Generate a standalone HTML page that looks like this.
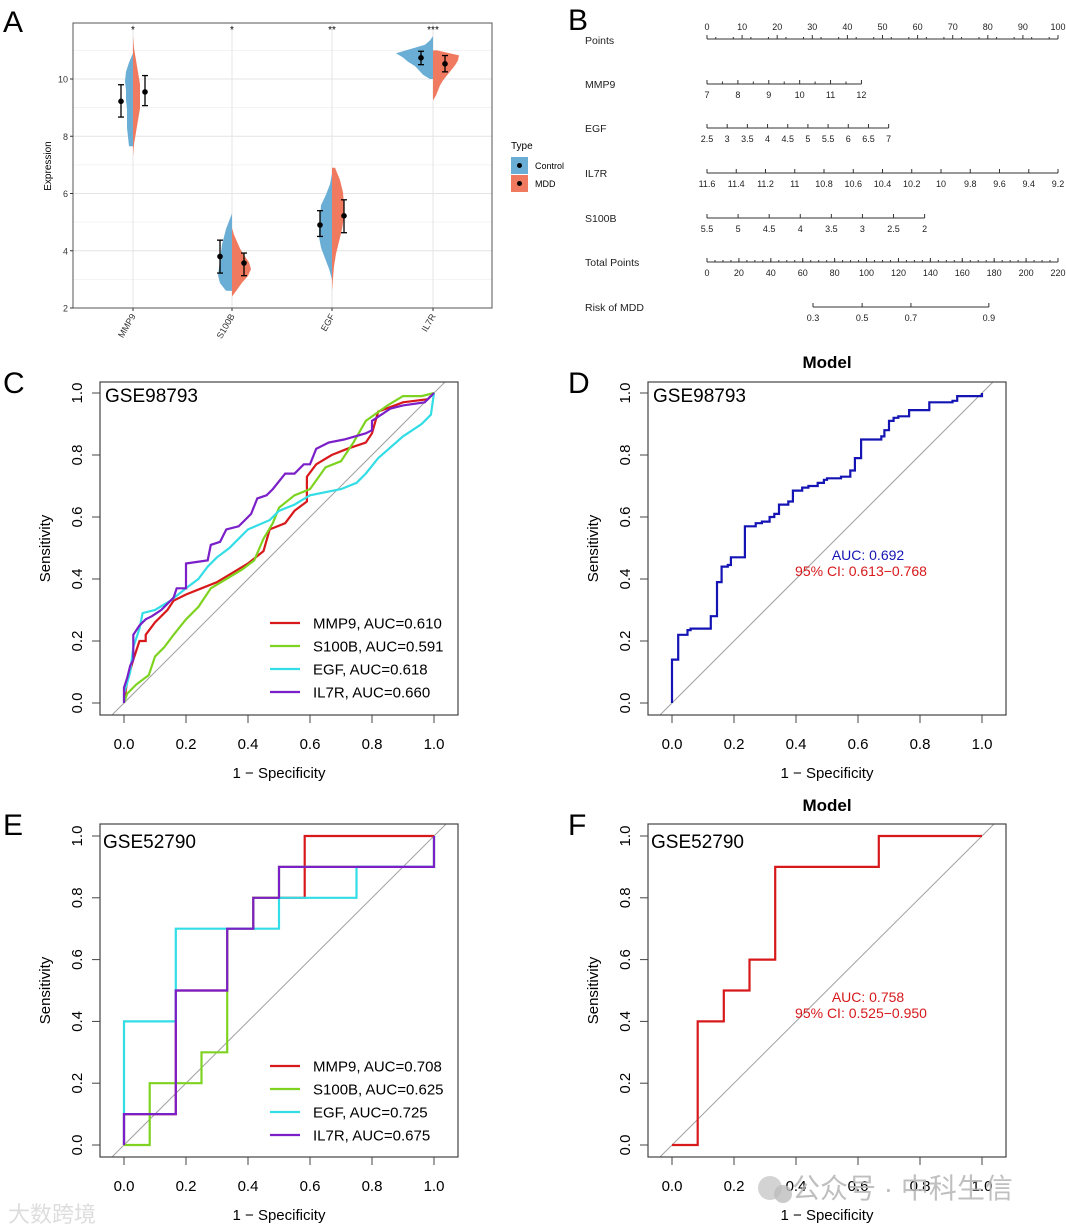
<!DOCTYPE html>
<html><head><meta charset="utf-8">
<style>
html,body{margin:0;padding:0;background:#fff;}
svg{display:block;font-family:"Liberation Sans","Noto Sans CJK SC",sans-serif;}
</style></head>
<body>
<svg id="fig" width="1066" height="1229" viewBox="0 0 1066 1229" xmlns="http://www.w3.org/2000/svg"></svg>
<script>
// ---------- Panel A data ----------
const genes = ["MMP9","S100B","EGF","IL7R"];
const sigLabels = ["*","*","**","***"];
const ctrlMean = [9.22,3.8,4.9,10.74];
const ctrlLo = [8.67,3.22,4.5,10.5];
const ctrlHi = [9.8,4.37,5.4,10.97];
const mddMean = [9.55,3.57,5.22,10.53];
const mddLo = [9.07,3.13,4.63,10.25];
const mddHi = [10.12,3.92,5.78,10.82];
const ctrlMin = [7.65,2.6,3.0,10.0];
const ctrlMax = [10.9,5.3,6.7,11.5];
const mddMin = [7.3,2.4,2.6,9.25];
const mddMax = [11.5,4.8,6.9,11.0];
const ctrlDens = [[4,5,6,6,6,7,7,8,7,4,0],[6,12,14,13,12,11,10,8,6,3,0],[0,3,7,11,13,13,12,11,6,2,0],[3,10,14,18,25,30,37,22,8,3,0]];
const mddDens = [[0,1,3,5,7,7,7,5,3,1,0],[0,5,10,16,19,17,12,8,5,2,0],[0,1,2,4,7,10,12,12,11,8,3],[0,3,5,7,10,14,18,22,25,26,4]];
const expTicks = [2,4,6,8,10];
const expMinor = [3,5,7,9,11];
// ---------- Panel B data ----------
const nomoNames = ["Points","MMP9","EGF","IL7R","S100B","Total Points","Risk of MDD"];
const nomoLabels = [
 ["0","10","20","30","40","50","60","70","80","90","100"],
 ["7","8","9","10","11","12"],
 ["2.5","3","3.5","4","4.5","5","5.5","6","6.5","7"],
 ["11.6","11.4","11.2","11","10.8","10.6","10.4","10.2","10","9.8","9.6","9.4","9.2"],
 ["5.5","5","4.5","4","3.5","3","2.5","2"],
 ["0","20","40","60","80","100","120","140","160","180","200","220"],
 ["0.3","0.5","0.7","0.9"]];
const nomoPts = [
 [0,10,20,30,40,50,60,70,80,90,100],
 [0,8.8,17.6,26.4,35.2,44],
 [0,5.75,11.5,17.25,23,28.75,34.5,40.25,46,51.75],
 [0,8.33,16.67,25,33.33,41.67,50,58.33,66.67,75,83.33,91.67,100],
 [0,8.857,17.714,26.571,35.428,44.285,53.142,62],
 [0,9.09,18.18,27.27,36.36,45.45,54.55,63.64,72.73,81.82,90.91,100],
 [30.2,44.2,58.1,80.3]];
// ---------- ROC data ----------
const rocNames = ["MMP9","S100B","EGF","IL7R"];
const rocColors = ["#d7191c","#7ed321","#33dde6","#7b1fc8"];
const aucC = ["0.610","0.591","0.618","0.660"];
const aucE = ["0.708","0.625","0.725","0.675"];
const cMMP9 = [[0,0],[0.01,0.07],[0.03,0.14],[0.05,0.2],[0.07,0.2],[0.07,0.22],[0.1,0.26],[0.14,0.3],[0.16,0.33],[0.2,0.35],[0.25,0.37],[0.3,0.39],[0.35,0.42],[0.4,0.45],[0.45,0.49],[0.47,0.56],[0.52,0.58],[0.55,0.62],[0.59,0.65],[0.59,0.73],[0.62,0.77],[0.67,0.8],[0.72,0.82],[0.78,0.84],[0.8,0.87],[0.82,0.94],[0.9,0.97],[0.98,0.98],[1,1]];
const cS100B = [[0,0],[0.01,0.03],[0.04,0.06],[0.08,0.09],[0.1,0.15],[0.13,0.18],[0.16,0.22],[0.2,0.27],[0.24,0.31],[0.28,0.37],[0.33,0.4],[0.38,0.43],[0.42,0.46],[0.45,0.53],[0.48,0.58],[0.5,0.63],[0.55,0.67],[0.6,0.69],[0.65,0.76],[0.7,0.78],[0.74,0.84],[0.78,0.91],[0.85,0.96],[0.9,0.99],[0.96,0.99],[1,1]];
const cEGF = [[0,0],[0,0.03],[0.02,0.1],[0.03,0.18],[0.05,0.24],[0.06,0.29],[0.1,0.3],[0.15,0.33],[0.2,0.37],[0.24,0.4],[0.27,0.44],[0.3,0.47],[0.34,0.5],[0.4,0.56],[0.47,0.59],[0.5,0.62],[0.55,0.64],[0.6,0.67],[0.7,0.69],[0.75,0.71],[0.78,0.74],[0.82,0.79],[0.9,0.86],[0.96,0.9],[0.99,0.93],[1,1]];
const cIL7R = [[0,0],[0,0.05],[0.01,0.08],[0.02,0.12],[0.03,0.14],[0.03,0.22],[0.05,0.25],[0.07,0.27],[0.09,0.28],[0.12,0.3],[0.14,0.32],[0.16,0.34],[0.17,0.37],[0.2,0.37],[0.2,0.45],[0.27,0.46],[0.28,0.51],[0.31,0.52],[0.33,0.56],[0.37,0.57],[0.39,0.59],[0.41,0.61],[0.43,0.66],[0.46,0.67],[0.48,0.69],[0.52,0.74],[0.55,0.74],[0.58,0.77],[0.6,0.77],[0.62,0.82],[0.66,0.84],[0.71,0.85],[0.78,0.87],[0.8,0.88],[0.8,0.91],[0.86,0.95],[0.9,0.96],[0.97,0.97],[1,1]];
const eMMP9 = [[0,0],[0,0.1],[0.167,0.1],[0.167,0.5],[0.333,0.5],[0.333,0.7],[0.417,0.7],[0.417,0.8],[0.583,0.8],[0.583,1],[1,1]];
const eS100B = [[0,0],[0.083,0],[0.083,0.2],[0.25,0.2],[0.25,0.3],[0.333,0.3],[0.333,0.7],[0.417,0.7],[0.417,0.8],[0.5,0.8],[0.5,0.9],[1,0.9],[1,1]];
const eEGF = [[0,0],[0,0.4],[0.167,0.4],[0.167,0.7],[0.5,0.7],[0.5,0.8],[0.75,0.8],[0.75,0.9],[1,0.9],[1,1]];
const eIL7R = [[0,0],[0,0.1],[0.167,0.1],[0.167,0.5],[0.333,0.5],[0.333,0.7],[0.417,0.7],[0.417,0.8],[0.5,0.8],[0.5,0.9],[1,0.9],[1,1]];
const dModel = [[0,0],[0,0.14],[0.02,0.14],[0.02,0.22],[0.05,0.22],[0.05,0.235],[0.06,0.235],[0.06,0.24],[0.125,0.24],[0.125,0.28],[0.145,0.28],[0.145,0.39],[0.16,0.39],[0.16,0.44],[0.18,0.44],[0.18,0.445],[0.19,0.445],[0.19,0.47],[0.235,0.47],[0.235,0.57],[0.27,0.57],[0.27,0.58],[0.29,0.58],[0.29,0.585],[0.315,0.585],[0.315,0.6],[0.33,0.6],[0.33,0.61],[0.345,0.61],[0.345,0.64],[0.375,0.64],[0.375,0.65],[0.39,0.65],[0.39,0.685],[0.42,0.685],[0.42,0.695],[0.44,0.695],[0.44,0.7],[0.47,0.7],[0.47,0.71],[0.49,0.71],[0.49,0.72],[0.5,0.72],[0.5,0.725],[0.545,0.725],[0.545,0.73],[0.575,0.73],[0.575,0.75],[0.59,0.75],[0.59,0.79],[0.61,0.79],[0.61,0.85],[0.675,0.85],[0.675,0.86],[0.685,0.86],[0.685,0.88],[0.7,0.88],[0.7,0.91],[0.715,0.91],[0.715,0.92],[0.73,0.92],[0.73,0.925],[0.765,0.925],[0.765,0.945],[0.83,0.945],[0.83,0.97],[0.905,0.97],[0.905,0.975],[0.92,0.975],[0.92,0.99],[1,0.99],[1,1]];
const fModel = [[0,0],[0.083,0],[0.083,0.4],[0.167,0.4],[0.167,0.5],[0.25,0.5],[0.25,0.6],[0.333,0.6],[0.333,0.9],[0.667,0.9],[0.667,1],[1,1]];
const rocTicks = [0,0.2,0.4,0.6,0.8,1.0];
const rocTickLabels = ["0.0","0.2","0.4","0.6","0.8","1.0"];

// ---------- helpers ----------
const NS = "http://www.w3.org/2000/svg";
const svg = document.getElementById("fig");
function el(tag, attrs, parent, text){
  const e = document.createElementNS(NS, tag);
  for (const k in attrs) e.setAttribute(k, attrs[k]);
  if (text !== undefined) e.textContent = text;
  (parent||svg).appendChild(e);
  return e;
}
function grp(name, parent){
  const g = el("g", {}, parent);
  
  
  return g;
}
function txt(parent, x, y, s, size, name, extra){
  const a = {x:x, y:y, "font-size":size, fill:"#000"};
  if (extra) for (const k in extra) a[k]=extra[k];
  const t = el("text", a, parent, s);
  
  
  return t;
}

// ---------- Panel letters ----------
const letters = [["A",3,32],["B",568,30],["C",3,393],["D",568,393],["E",3,835],["F",568,835]];
letters.forEach(l=>{ txt(svg,l[1],l[2],l[0],30,"panel-label-"+l[0].toLowerCase()); });

// ---------- Panel A ----------
(function(){
  const g = grp("panel-a-violin");
  const L=73,R=492,T=23,B=308;
  const ys = v => 308 - (v-2)*(229/8);
  const cx = [133,232,332,433];
  el("rect",{x:L,y:T,width:R-L,height:B-T,fill:"#fff"},g);
  expMinor.forEach(v=>{ const ln=el("line",{x1:L,x2:R,y1:ys(v),y2:ys(v),stroke:"#f0f0f0","stroke-width":0.8},g);  });
  expTicks.forEach(v=>{ const ln=el("line",{x1:L,x2:R,y1:ys(v),y2:ys(v),stroke:"#e4e4e4","stroke-width":1},g);  });
  cx.forEach(x=>{ const ln=el("line",{x1:x,x2:x,y1:T,y2:B,stroke:"#e4e4e4","stroke-width":1},g);  });
  function half(i, mn, mx, dens, side, color, name){
    const n = dens.length; let pts=[];
    for(let k=0;k<n;k++){ const v = mn+(mx-mn)*k/(n-1); pts.push([cx[i]+side*dens[k], ys(v)]); }
    let d = "M"+cx[i]+","+ys(mn)+" ";
    pts.forEach(p=>{ d+="L"+p[0].toFixed(1)+","+p[1].toFixed(1)+" "; });
    d += "L"+cx[i]+","+ys(mx)+" Z";
    const p = el("path",{d:d,fill:color,stroke:"none"},g);
    
    
  }
  function errbar(x, m, lo, hi, name){
    const gg = grp(name, g);
    el("line",{x1:x,x2:x,y1:ys(lo),y2:ys(hi),stroke:"#000","stroke-width":1.3},gg);
    el("line",{x1:x-3,x2:x+3,y1:ys(lo),y2:ys(lo),stroke:"#000","stroke-width":1.3},gg);
    el("line",{x1:x-3,x2:x+3,y1:ys(hi),y2:ys(hi),stroke:"#000","stroke-width":1.3},gg);
    el("circle",{cx:x,cy:ys(m),r:2.8,fill:"#000"},gg);
  }
  genes.forEach((gn,i)=>{
    half(i, ctrlMin[i], ctrlMax[i], ctrlDens[i], -1, "#6aaed6", "violin-control-"+gn.toLowerCase());
    half(i, mddMin[i], mddMax[i], mddDens[i], 1, "#f07a5f", "violin-mdd-"+gn.toLowerCase());
    errbar(cx[i]-12, ctrlMean[i], ctrlLo[i], ctrlHi[i], "errorbar-control-"+gn.toLowerCase());
    errbar(cx[i]+12, mddMean[i], mddLo[i], mddHi[i], "errorbar-mdd-"+gn.toLowerCase());
    txt(g, cx[i], 33, sigLabels[i], 10, "significance-"+gn.toLowerCase(), {"text-anchor":"middle"});
    el("line",{x1:cx[i],x2:cx[i],y1:B,y2:B+3,stroke:"#333"},g);
    txt(g, cx[i]+3, B+8, gn, 9, "x-tick-"+gn.toLowerCase(), {"text-anchor":"end", transform:"rotate(-60 "+(cx[i]+3)+" "+(B+8)+")", fill:"#333"});
  });
  el("rect",{x:L,y:T,width:R-L,height:B-T,fill:"none",stroke:"#555","stroke-width":1},g);
  expTicks.forEach(v=>{
    el("line",{x1:L-3,x2:L,y1:ys(v),y2:ys(v),stroke:"#333"},g);
    txt(g, L-5, ys(v)+3.5, String(v), 9, "y-tick-label", {"text-anchor":"end", fill:"#333"});
  });
  txt(g, 51, 166, "Expression", 10, "y-axis-title", {"text-anchor":"middle", transform:"rotate(-90 51 166)"});
  const lg = grp("legend", g);
  txt(lg, 511, 149, "Type", 10, "legend-title");
  const items=[["Control","#6aaed6",157],["MDD","#f07a5f",175]];
  items.forEach(it=>{
    const e = grp("legend-entry-"+it[0].toLowerCase(), lg);
    el("rect",{x:511,y:it[2],width:17,height:17,fill:it[1]},e);
    el("circle",{cx:519.5,cy:it[2]+8.5,r:2.5,fill:"#000"},e);
    txt(e, 535, it[2]+12, it[0], 9, "legend-label");
  });
})();

// ---------- Panel B (nomogram) ----------
(function(){
  const g = grp("panel-b-nomogram");
  const x0=707, x1=1058;
  const px = p => x0 + (x1-x0)*p/100;
  const rowY = [39,84,128,173,218,262,307];
  nomoNames.forEach((nm,r)=>{
    const rg = grp("nomogram-row-"+nm.toLowerCase().replace(/ /g,'-'), g);
    txt(rg, 585, rowY[r]+(r===0?5:4), nm, 10.5, "row-label", {fill:"#222"});
    const pos = nomoPts[r];
    const y = rowY[r];
    el("line",{x1:px(pos[0]),x2:px(pos[pos.length-1]),y1:y,y2:y,stroke:"#333","stroke-width":1},rg);
    const up = (r===0);
    pos.forEach((p,k)=>{
      el("line",{x1:px(p),x2:px(p),y1:y,y2:y-4,stroke:"#333"},rg);
      txt(rg, px(p), up? y-9 : y+14, nomoLabels[r][k], 9, "tick-label", {"text-anchor":"middle", fill:"#222"});
    });
    if (r===0){ for(let k=0;k<20;k++){ const p=k*5+2.5; el("line",{x1:px(p),x2:px(p),y1:y,y2:y-2,stroke:"#333"},rg);} }
    if (r===5){ for(let k=0;k<44;k++){ const p=(k*5)/2.2; el("line",{x1:px(p),x2:px(p),y1:y,y2:y-2,stroke:"#333"},rg);} }
    if (r===1){ for(let k=0;k<5;k++){ const p=(k+0.5)*8.8; el("line",{x1:px(p),x2:px(p),y1:y,y2:y-2.5,stroke:"#333"},rg);} }
  });
})();

// ---------- ROC panels ----------
function rocPanel(name, boxL, boxT, boxB, yOne, yZero, series, colors){
  const g = grp(name);
  const xZero = boxL+24, xOne = boxL+334;
  const xs = v => xZero + (xOne-xZero)*v;
  const ys = v => yZero - (yZero-yOne)*v;
  const cp = "clip-"+name;
  const defs = el("defs",{},g);
  const c = el("clipPath",{id:cp},defs);
  el("rect",{x:boxL,y:boxT,width:358,height:boxB-boxT},c);
  const dg = el("line",{x1:xs(-0.2),y1:ys(-0.2),x2:xs(1.2),y2:ys(1.2),stroke:"#a0a0a0","stroke-width":1,"clip-path":"url(#"+cp+")"},g);
  
  
  series.forEach((s,i)=>{
    const d = s.pts.map((p,k)=>(k?"L":"M")+xs(p[0]).toFixed(1)+","+ys(p[1]).toFixed(1)).join(" ");
    const p = el("path",{d:d,fill:"none",stroke:colors[i],"stroke-width":2.2,"clip-path":"url(#"+cp+")"},g);
    
    
  });
  el("rect",{x:boxL,y:boxT,width:358,height:boxB-boxT,fill:"none",stroke:"#444","stroke-width":1.2},g);
  rocTicks.forEach((v,k)=>{
    el("line",{x1:xs(v),x2:xs(v),y1:boxB,y2:boxB+8,stroke:"#444"},g);
    txt(g, xs(v), boxB+34, rocTickLabels[k], 15, "x-tick-label", {"text-anchor":"middle"});
    el("line",{x1:boxL-8,x2:boxL,y1:ys(v),y2:ys(v),stroke:"#444"},g);
    txt(g, boxL-23, ys(v), rocTickLabels[k], 15, "y-tick-label", {"text-anchor":"middle", transform:"rotate(-90 "+(boxL-23)+" "+ys(v)+")", dy:"5"});
  });
  txt(g, (xZero+xOne)/2, boxB+63, "1 − Specificity", 15, "x-axis-title", {"text-anchor":"middle"});
  const my = (boxT+boxB)/2;
  txt(g, boxL-50, my, "Sensitivity", 15, "y-axis-title", {"text-anchor":"middle", transform:"rotate(-90 "+(boxL-50)+" "+my+")"});
  return {g, xs, ys};
}
function rocLegend(p, aucs, top){
  const lg = grp("legend", p.g);
  rocNames.forEach((n,i)=>{
    const e = grp("legend-entry-"+n.toLowerCase(), lg);
    const y = top + i*23;
    el("line",{x1:270,x2:300,y1:y,y2:y,stroke:rocColors[i],"stroke-width":2.2},e);
    txt(e, 313, y+5.5, n+", AUC="+aucs[i], 15, "legend-label");
  });
}
const pC = rocPanel("panel-c-roc", 100, 382, 715, 393, 703,
  [{name:"mmp9",pts:cMMP9},{name:"s100b",pts:cS100B},{name:"egf",pts:cEGF},{name:"il7r",pts:cIL7R}], rocColors);
txt(pC.g, 105, 402, "GSE98793", 19, "dataset-label");
rocLegend(pC, aucC, 623);
const pD = rocPanel("panel-d-roc", 648, 382, 715, 393, 703, [{name:"model",pts:dModel}], ["#1414b4"]);
txt(pD.g, 653, 402, "GSE98793", 19, "dataset-label");
txt(pD.g, 827, 368, "Model", 17, "plot-title", {"text-anchor":"middle","font-weight":"bold"});
txt(pD.g, 868, 560, "AUC: 0.692", 14, "auc-label", {"text-anchor":"middle", fill:"#1414b4"});
txt(pD.g, 861, 576, "95% CI: 0.613−0.768", 14, "ci-label", {"text-anchor":"middle", fill:"#d7191c"});
const pE = rocPanel("panel-e-roc", 100, 824, 1157, 836, 1145,
  [{name:"mmp9",pts:eMMP9},{name:"s100b",pts:eS100B},{name:"egf",pts:eEGF},{name:"il7r",pts:eIL7R}], rocColors);
txt(pE.g, 103, 848, "GSE52790", 19, "dataset-label");
rocLegend(pE, aucE, 1066);
const pF = rocPanel("panel-f-roc", 648, 824, 1157, 836, 1145, [{name:"model",pts:fModel}], ["#d7191c"]);
txt(pF.g, 651, 848, "GSE52790", 19, "dataset-label");
txt(pF.g, 827, 811, "Model", 17, "plot-title", {"text-anchor":"middle","font-weight":"bold"});
txt(pF.g, 868, 1002, "AUC: 0.758", 14, "auc-label", {"text-anchor":"middle", fill:"#d7191c"});
txt(pF.g, 861, 1018, "95% CI: 0.525−0.950", 14, "ci-label", {"text-anchor":"middle", fill:"#d7191c"});

const wm = grp("watermarks");
el("circle",{cx:770,cy:1188,r:12,fill:"#c8c8c8",opacity:0.8},wm);
el("circle",{cx:783,cy:1194,r:9,fill:"#bdbdbd",opacity:0.8},wm);
txt(wm, 792, 1198, "公众号 · 中科生信", 28, "watermark-text", {fill:"#b5b5b5", opacity:0.85});
txt(wm, 8, 1222, "大数跨境", 22, "watermark-text-2", {fill:"#d5d5d5", opacity:0.8});
</script>
</body></html>
